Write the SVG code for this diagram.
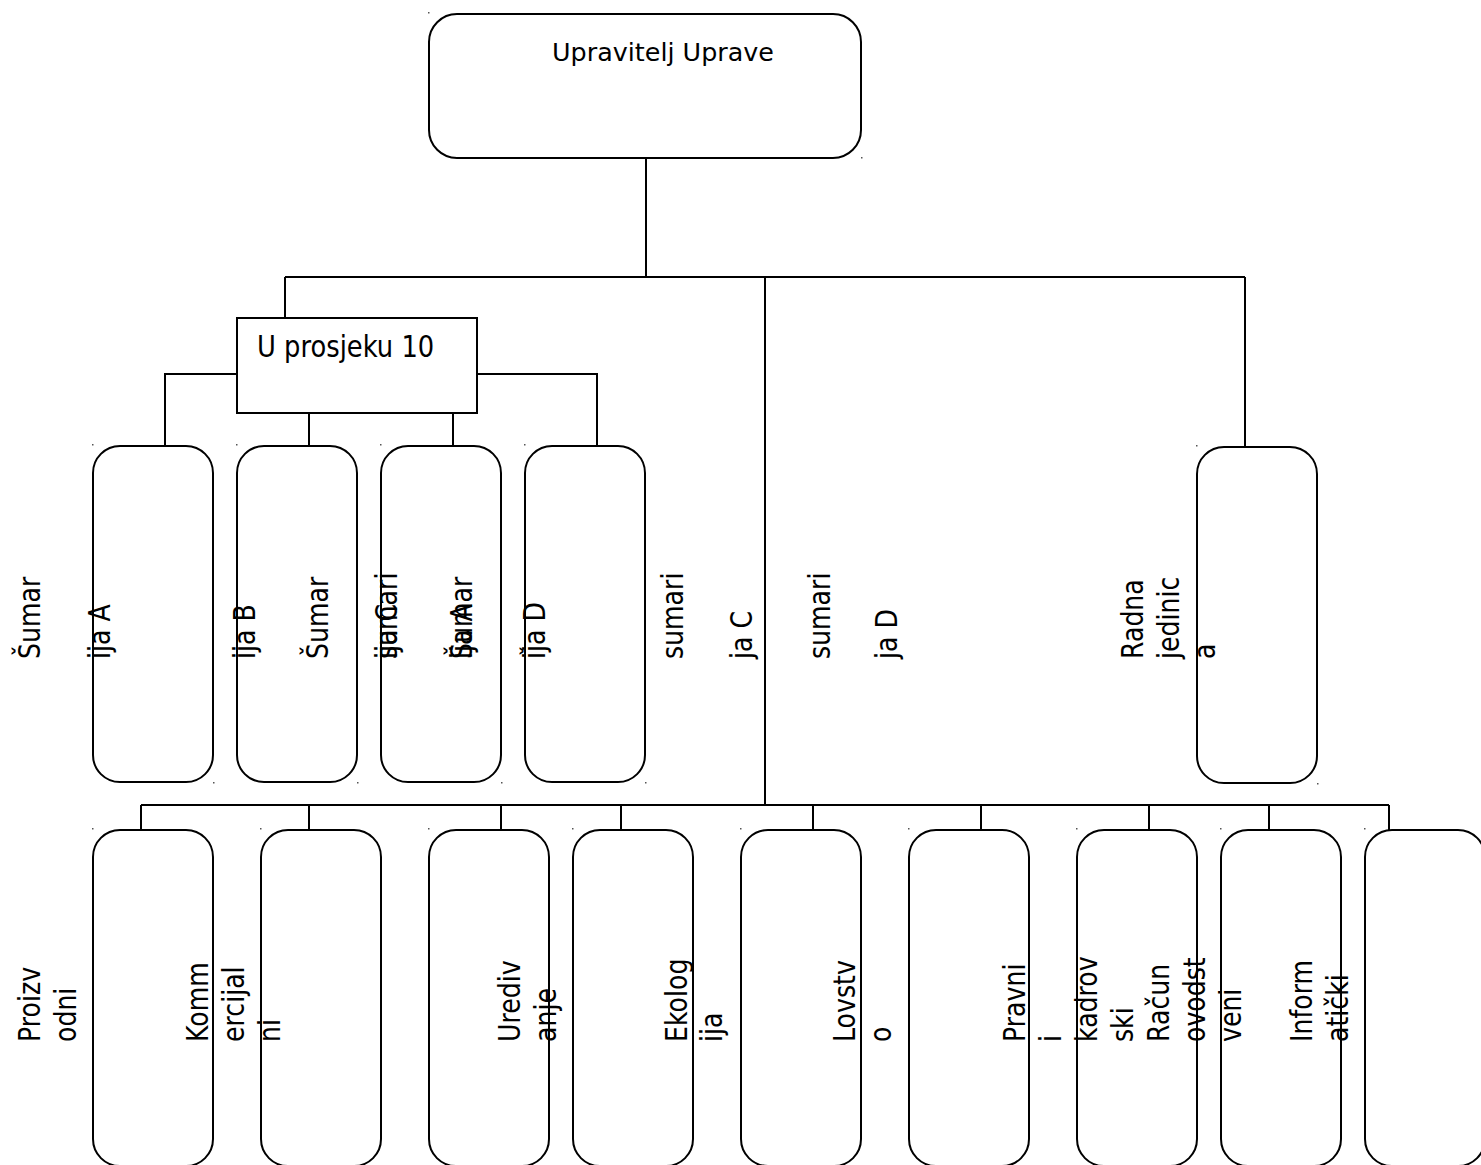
<svg xmlns="http://www.w3.org/2000/svg" width="1481" height="1165" viewBox="0 0 1481 1165">
  <style>
    .box { fill: none; stroke: #000; stroke-width: 2; }
    .solid { fill: #fff; }
    .wire { fill: none; stroke: #000; stroke-width: 2; }
    .lbl { font-family: "DejaVu Sans", Verdana, sans-serif; font-size: 30px; fill: #000; }
    .head { font-family: "DejaVu Sans", Verdana, sans-serif; font-size: 25px; fill: #000; }
    .handle { fill: #555; }
  </style>

  <!-- connectors -->
  <g id="connectors" class="wire">
    <path d="M646 158 V277"/>
    <path d="M285 277 H1245"/>
    <path d="M285 277 V318"/>
    <path d="M765 277 V805"/>
    <path d="M1245 277 V447"/>
    <path d="M236 374 H165 V446"/>
    <path d="M477 374 H597 V446"/>
    <path d="M309 413 V446"/>
    <path d="M453 413 V446"/>
    <path d="M141 805 H1389"/>
    <path d="M141 805 V830 M309 805 V830 M501 805 V830 M621 805 V830 M813 805 V830 M981 805 V830 M1149 805 V830 M1269 805 V830 M1389 805 V830"/>
  </g>

  <!-- top management -->
  <g id="upravitelj">
    <rect class="box" x="429" y="14" width="432" height="144" rx="28"/>
    <text class="head" x="552" y="61" textLength="222" lengthAdjust="spacingAndGlyphs">Upravitelj Uprave</text>
  </g>

  <!-- intermediate level -->
  <g id="prosjek">
    <rect class="box" x="237" y="318" width="240" height="95"/>
    <text class="lbl" transform="translate(257 357) scale(0.86 1)">U prosjeku 10</text>
  </g>

  <!-- first row: forest offices -->
  <g id="sumarija-a">
    <rect class="box" x="93" y="446" width="120" height="336" rx="27"/>
  </g>
  <g id="sumarija-b">
    <rect class="box" x="237" y="446" width="120" height="336" rx="27"/>
  </g>
  <g id="sumarija-c">
    <rect class="box" x="381" y="446" width="120" height="336" rx="27"/>
  </g>
  <g id="sumarija-d">
    <text class="lbl" transform="translate(548 659) rotate(-90) scale(0.84 1)">Šumar</text>
    <rect class="box solid" x="525" y="446" width="120" height="336" rx="27"/>
  </g>
  <g id="radna-jedinica">
    <rect class="box" x="1197" y="447" width="120" height="336" rx="27"/>
  </g>

  <!-- first row labels (rotated, reading upward) -->
  <g id="row1-labels">
    <text class="lbl" transform="translate(40 659) rotate(-90) scale(0.84 1)">Šumar</text>
    <text class="lbl" transform="translate(110 659) rotate(-90) scale(0.84 1)">ija A</text>
    <text class="lbl" transform="translate(255 659) rotate(-90) scale(0.84 1)">ija B</text>
    <text class="lbl" transform="translate(328 659) rotate(-90) scale(0.84 1)">Šumar</text>
    <text class="lbl" transform="translate(397 659) rotate(-90) scale(0.84 1)">ija C</text>
    <text class="lbl" transform="translate(397 659) rotate(-90) scale(0.84 1)">sumari</text>
    <text class="lbl" transform="translate(472 659) rotate(-90) scale(0.84 1)">Šumar</text>
    <text class="lbl" transform="translate(472 659) rotate(-90) scale(0.84 1)">ija A</text>
    <text class="lbl" transform="translate(545 659) rotate(-90) scale(0.84 1)">ija D</text>
    <text class="lbl" transform="translate(683 659) rotate(-90) scale(0.84 1)">sumari</text>
    <text class="lbl" transform="translate(752 659) rotate(-90) scale(0.84 1)">ja C</text>
    <text class="lbl" transform="translate(830 659) rotate(-90) scale(0.84 1)">sumari</text>
    <text class="lbl" transform="translate(897 659) rotate(-90) scale(0.84 1)">ja D</text>
    <text class="lbl" transform="translate(1143 659) rotate(-90) scale(0.84 1)">Radna</text>
    <text class="lbl" transform="translate(1179 659) rotate(-90) scale(0.84 1)">jedinic</text>
    <text class="lbl" transform="translate(1215 659) rotate(-90) scale(0.84 1)">a</text>
  </g>

  <!-- second row: departments -->
  <g id="proizvodni"><rect class="box" x="93" y="830" width="120" height="336" rx="27"/></g>
  <g id="komercijalni"><rect class="box" x="261" y="830" width="120" height="336" rx="27"/></g>
  <g id="uredivanje"><rect class="box" x="429" y="830" width="120" height="336" rx="27"/></g>
  <g id="ekologija"><rect class="box" x="573" y="830" width="120" height="336" rx="27"/></g>
  <g id="lovstvo"><rect class="box" x="741" y="830" width="120" height="336" rx="27"/></g>
  <g id="pravni"><rect class="box" x="909" y="830" width="120" height="336" rx="27"/></g>
  <g id="racunovodstveni"><rect class="box" x="1077" y="830" width="120" height="336" rx="27"/></g>
  <g id="informaticki"><rect class="box" x="1221" y="830" width="120" height="336" rx="27"/></g>
  <g id="prazno"><rect class="box" x="1365" y="830" width="120" height="336" rx="27"/></g>

  <!-- second row labels -->
  <g id="row2-labels">
    <text class="lbl" transform="translate(40 1042) rotate(-90) scale(0.84 1)">Proizv</text>
    <text class="lbl" transform="translate(76 1042) rotate(-90) scale(0.84 1)">odni</text>
    <text class="lbl" transform="translate(208 1042) rotate(-90) scale(0.84 1)">Komm</text>
    <text class="lbl" transform="translate(244 1042) rotate(-90) scale(0.84 1)">ercijal</text>
    <text class="lbl" transform="translate(280 1042) rotate(-90) scale(0.84 1)">ni</text>
    <text class="lbl" transform="translate(520 1042) rotate(-90) scale(0.84 1)">Urediv</text>
    <text class="lbl" transform="translate(556 1042) rotate(-90) scale(0.84 1)">anje</text>
    <text class="lbl" transform="translate(687 1042) rotate(-90) scale(0.84 1)">Ekolog</text>
    <text class="lbl" transform="translate(722 1042) rotate(-90) scale(0.84 1)">ija</text>
    <text class="lbl" transform="translate(855 1042) rotate(-90) scale(0.84 1)">Lovstv</text>
    <text class="lbl" transform="translate(891 1042) rotate(-90) scale(0.84 1)">o</text>
    <text class="lbl" transform="translate(1025 1042) rotate(-90) scale(0.84 1)">Pravni</text>
    <text class="lbl" transform="translate(1061 1042) rotate(-90) scale(0.84 1)">i</text>
    <text class="lbl" transform="translate(1097 1042) rotate(-90) scale(0.84 1)">kadrov</text>
    <text class="lbl" transform="translate(1133 1042) rotate(-90) scale(0.84 1)">ski</text>
    <text class="lbl" transform="translate(1169 1042) rotate(-90) scale(0.84 1)">Račun</text>
    <text class="lbl" transform="translate(1205 1042) rotate(-90) scale(0.84 1)">ovodst</text>
    <text class="lbl" transform="translate(1241 1042) rotate(-90) scale(0.84 1)">veni</text>
    <text class="lbl" transform="translate(1312 1042) rotate(-90) scale(0.84 1)">Inform</text>
    <text class="lbl" transform="translate(1348 1042) rotate(-90) scale(0.84 1)">atički</text>
  </g>

  <!-- corner handles of the shape frames -->
  <g id="handles" class="handle">
    <rect x="428" y="12" width="1.5" height="1.5"/><rect x="861" y="157" width="1.5" height="1.5"/>
    <rect x="92" y="444" width="1.5" height="1.5"/><rect x="213" y="782" width="1.5" height="1.5"/>
    <rect x="236" y="444" width="1.5" height="1.5"/><rect x="357" y="782" width="1.5" height="1.5"/>
    <rect x="380" y="444" width="1.5" height="1.5"/><rect x="501" y="782" width="1.5" height="1.5"/>
    <rect x="524" y="444" width="1.5" height="1.5"/><rect x="645" y="782" width="1.5" height="1.5"/>
    <rect x="1196" y="445" width="1.5" height="1.5"/><rect x="1317" y="783" width="1.5" height="1.5"/>
    <rect x="92" y="828" width="1.5" height="1.5"/><rect x="260" y="828" width="1.5" height="1.5"/>
    <rect x="428" y="828" width="1.5" height="1.5"/><rect x="572" y="828" width="1.5" height="1.5"/>
    <rect x="740" y="828" width="1.5" height="1.5"/><rect x="908" y="828" width="1.5" height="1.5"/>
    <rect x="1076" y="828" width="1.5" height="1.5"/><rect x="1220" y="828" width="1.5" height="1.5"/>
    <rect x="1364" y="828" width="1.5" height="1.5"/>
  </g>
</svg>
